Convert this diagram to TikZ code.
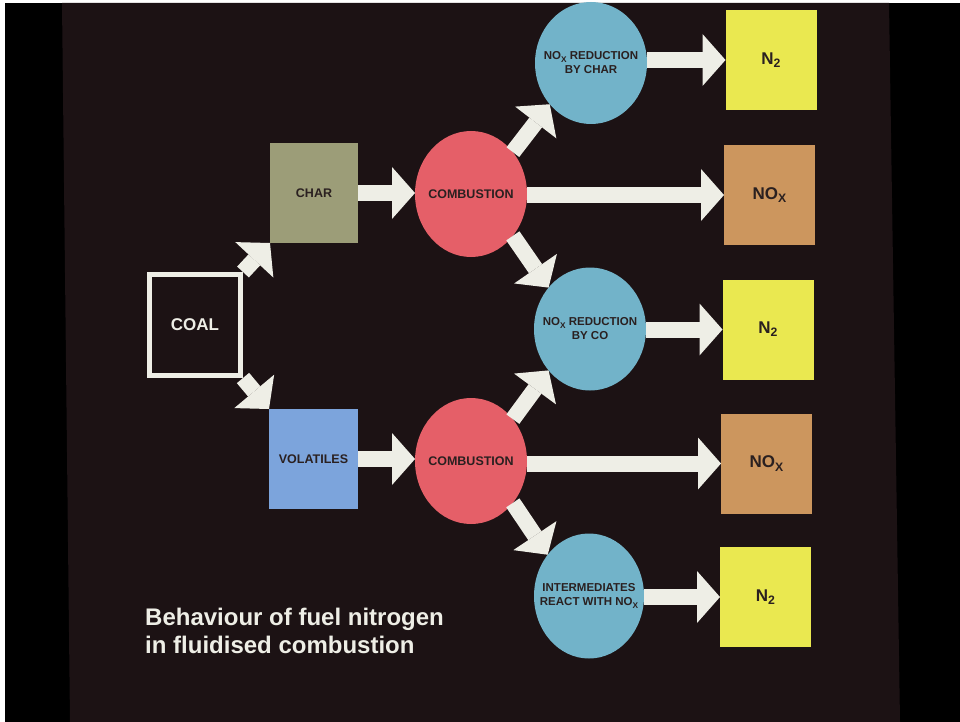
\documentclass[tikz,border=0pt]{standalone}
\usepackage{fontspec}
\setmainfont{Liberation Sans}
\usepackage{graphicx}
\usetikzlibrary{shapes.geometric,arrows.meta}
\definecolor{bgbrown}{HTML}{1C1214}
\definecolor{arrowc}{HTML}{EEEEE6}
\definecolor{charc}{HTML}{9C9D78}
\definecolor{volc}{HTML}{7CA4DC}
\definecolor{redc}{HTML}{E55F68}
\definecolor{bluec}{HTML}{72B3C9}
\definecolor{yelc}{HTML}{EAE850}
\definecolor{tanc}{HTML}{CC965E}
\definecolor{inkc}{HTML}{2A2020}
\newcommand\subX{\raisebox{-0.35ex}{\scalebox{0.72}{X}}}
\newcommand\subtwo{\raisebox{-0.35ex}{\scalebox{0.72}{2}}}
\begin{document}
\begin{tikzpicture}[x=1pt,y=-1pt,
  box/.style={rectangle, inner sep=0pt, outer sep=0pt, text=inkc, font=\fontsize{12.5}{14}\selectfont\bfseries},
  ell/.style={ellipse, inner sep=0pt, outer sep=0pt, minimum width=112pt},
  redell/.style={ell, fill=redc, minimum height=126pt},
  blueell/.style={ell, fill=bluec, minimum height=123pt},
  cl/.style={text=inkc, inner sep=0pt, align=center, font=\fontsize{12.5}{14}\selectfont\bfseries},
  bl/.style={text=inkc, inner sep=0pt, align=center, font=\fontsize{11.5}{14}\selectfont\bfseries},
  prod/.style={box, minimum width=91pt, minimum height=100pt, font=\fontsize{17}{20}\selectfont\bfseries},
  ntwobox/.style={prod, fill=yelc},
  noxbox/.style={prod, fill=tanc},
  blk/.style={draw=arrowc, line width=16pt, -{Triangle[length=23pt,width=52pt,line width=0pt]}},
]
\useasboundingbox (0,0) rectangle (960,722);
\fill[white] (0,0) rectangle (960,722);
\fill[black] (5,3) rectangle (960,722);
\fill[bgbrown] (62,3) -- (889,3) -- (900,722) -- (70,722) -- cycle;

\node[draw=arrowc, line width=5pt, minimum width=91pt, minimum height=101pt, inner sep=0pt, text=arrowc, font=\fontsize{17}{20}\selectfont\bfseries] (coal) at (195,325) {COAL};
\node[box, fill=charc, minimum width=88pt, minimum height=100pt] (char) at (314,193) {CHAR};
\node[box, fill=volc, minimum width=89pt, minimum height=100pt] (vol) at (313.5,459) {VOLATILES};

\node[redell, label={[cl]center:{COMBUSTION}}] (comb1) at (471,194) {};
\node[redell, label={[cl]center:{COMBUSTION}}] (comb2) at (471,461) {};

\node[blueell, minimum height=122pt, label={[bl]center:{NO\subX{} REDUCTION\\BY CHAR}}] (blue1) at (591,63) {};
\node[blueell, label={[bl]center:{NO\subX{} REDUCTION\\BY CO}}] (blue2) at (590,329) {};
\node[blueell, minimum width=110pt, minimum height=125pt, label={[bl]center:{INTERMEDIATES\\REACT WITH NO\subX}}] (blue3) at (589,596) {};

\node[ntwobox] (n2a) at (771,60) {N\subtwo};
\node[noxbox] (noxa) at (769.5,195) {NO\subX};
\node[ntwobox] (n2b) at (768,329.5) {N\subtwo};
\node[noxbox] (noxb) at (766.5,463.5) {NO\subX};
\node[ntwobox] (n2c) at (765.5,597) {N\subtwo};

\draw[blk] (coal.north east) -- (char.south west);
\draw[blk] (coal.south east) -- (vol.north west);
\draw[blk] (char.east) -- (char.east -| comb1.west);
\draw[blk] (vol.east) -- (vol.east -| comb2.west);
\draw[blk] (comb1.45) -- (blue1.225);
\draw[blk] (comb1.-45) -- (blue2.135);
\draw[blk] (comb2.45) -- (blue2.225);
\draw[blk] (comb2.-45) -- (blue3.135);
\draw[blk] (comb1.east |- noxa.west) -- (noxa.west);
\draw[blk] (comb2.east |- noxb.west) -- (noxb.west);
\draw[blk] (blue1.east |- n2a.west) -- (n2a.west);
\draw[blk] (blue2.east |- n2b.west) -- (n2b.west);
\draw[blk] (blue3.east |- n2c.west) -- (n2c.west);

\node[anchor=north west, inner sep=0pt, align=left, text=arrowc, font=\fontsize{24}{28}\selectfont\bfseries] (title) at (145,608) {Behaviour of fuel nitrogen\\in fluidised combustion};
\end{tikzpicture}
\end{document}
